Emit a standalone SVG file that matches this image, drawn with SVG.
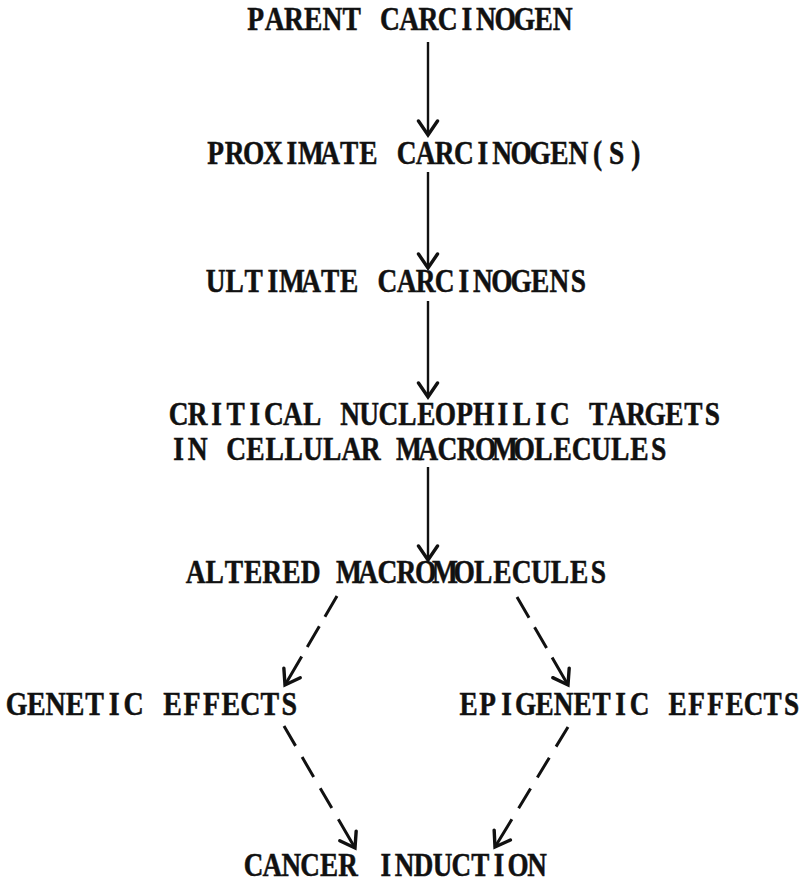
<svg xmlns="http://www.w3.org/2000/svg" width="806" height="883" viewBox="0 0 806 883">
<style>
  .t { font-family: "Liberation Serif", "Times New Roman", serif; font-weight: bold; font-size: 33px; fill: #111; stroke: #111; stroke-width: 0.5; text-anchor: middle; }
  .solid { stroke: #111; stroke-width: 2.4; fill: none; }
  .dash1 { stroke: #111; stroke-width: 3; fill: none; stroke-dasharray: 24 11 24 11 60; stroke-linecap: butt; }
  .dash2 { stroke: #111; stroke-width: 3; fill: none; stroke-dasharray: 23 13 23 13 23 13 60; stroke-linecap: butt; }
</style>
<defs>
  <marker id="head" markerUnits="userSpaceOnUse" viewBox="-16 -12 20 24" refX="0" refY="0" markerWidth="20" markerHeight="24" orient="auto">
    <path d="M -14 -9.5 L 0 0 L -14 9.5" fill="none" stroke="#111" stroke-width="3.4" stroke-linecap="round" stroke-linejoin="miter"/>
  </marker>
</defs>
<rect width="806" height="883" fill="#fff"/>
<g id="n-parent" transform="translate(246,0) scale(0.8348,1)"><text class="t" x="11.5 34.5 57.5 80.5 103.5 126.5 149.5 172.5 195.5 218.5 241.5 264.5 287.5 310.5 333.5 356.5 379.5 402.5 425.5 448.5 471.5 494.5 517.5 540.5 563.5 586.5 609.5 632.5 655.5" y="30">PARENT CARCINOGEN</text></g>
<g id="n-proximate" transform="translate(206,0) scale(0.8304,1)"><text class="t" x="11.5 34.5 57.5 80.5 103.5 126.5 149.5 172.5 195.5 218.5 241.5 264.5 287.5 310.5 333.5 356.5 379.5 402.5 425.5 448.5 471.5 494.5 517.5 540.5 563.5 586.5 609.5 632.5 655.5" y="164">PROXIMATE CARCINOGEN(S)</text></g>
<g id="n-ultimate" transform="translate(206,0) scale(0.8304,1)"><text class="t" x="11.5 34.5 57.5 80.5 103.5 126.5 149.5 172.5 195.5 218.5 241.5 264.5 287.5 310.5 333.5 356.5 379.5 402.5 425.5 448.5 471.5 494.5 517.5 540.5 563.5 586.5 609.5 632.5 655.5" y="292">ULTIMATE CARCINOGENS</text></g>
<g id="n-targets">
  <g transform="translate(169,0) scale(0.8291,1)"><text class="t" x="11.5 34.5 57.5 80.5 103.5 126.5 149.5 172.5 195.5 218.5 241.5 264.5 287.5 310.5 333.5 356.5 379.5 402.5 425.5 448.5 471.5 494.5 517.5 540.5 563.5 586.5 609.5 632.5 655.5" y="425">CRITICAL NUCLEOPHILIC TARGETS</text></g>
  <g transform="translate(169,0) scale(0.8348,1)"><text class="t" x="11.5 34.5 57.5 80.5 103.5 126.5 149.5 172.5 195.5 218.5 241.5 264.5 287.5 310.5 333.5 356.5 379.5 402.5 425.5 448.5 471.5 494.5 517.5 540.5 563.5 586.5 609.5 632.5 655.5" y="460">IN CELLULAR MACROMOLECULES</text></g>
</g>
<g id="n-altered" transform="translate(186,0) scale(0.8339,1)"><text class="t" x="11.5 34.5 57.5 80.5 103.5 126.5 149.5 172.5 195.5 218.5 241.5 264.5 287.5 310.5 333.5 356.5 379.5 402.5 425.5 448.5 471.5 494.5 517.5 540.5 563.5 586.5 609.5 632.5 655.5" y="583">ALTERED MACROMOLECULES</text></g>
<g id="n-genetic" transform="translate(7,0) scale(0.8465,1)"><text class="t" x="11.5 34.5 57.5 80.5 103.5 126.5 149.5 172.5 195.5 218.5 241.5 264.5 287.5 310.5 333.5 356.5 379.5 402.5 425.5 448.5 471.5 494.5 517.5 540.5 563.5 586.5 609.5 632.5 655.5" y="715">GENETIC EFFECTS</text></g>
<g id="n-epigenetic" transform="translate(459,0) scale(0.8261,1)"><text class="t" x="11.5 34.5 57.5 80.5 103.5 126.5 149.5 172.5 195.5 218.5 241.5 264.5 287.5 310.5 333.5 356.5 379.5 402.5 425.5 448.5 471.5 494.5 517.5 540.5 563.5 586.5 609.5 632.5 655.5" y="715">EPIGENETIC EFFECTS</text></g>
<g id="n-cancer" transform="translate(244,0) scale(0.8217,1)"><text class="t" x="11.5 34.5 57.5 80.5 103.5 126.5 149.5 172.5 195.5 218.5 241.5 264.5 287.5 310.5 333.5 356.5 379.5 402.5 425.5 448.5 471.5 494.5 517.5 540.5 563.5 586.5 609.5 632.5 655.5" y="876">CANCER INDUCTION</text></g>
<g id="connectors">
  <path class="solid" d="M 428 42 L 428 135" marker-end="url(#head)"/>
  <path class="solid" d="M 428 172 L 428 268" marker-end="url(#head)"/>
  <path class="solid" d="M 428 301 L 428 397" marker-end="url(#head)"/>
  <path class="solid" d="M 428 467 L 428 560" marker-end="url(#head)"/>
  <path class="dash1" d="M 337 596 L 285 685" marker-end="url(#head)"/>
  <path class="dash1" d="M 517 597 L 568 685" marker-end="url(#head)"/>
  <path class="dash2" d="M 284 726 L 355 848" marker-end="url(#head)"/>
  <path class="dash2" d="M 568 727 L 495 847" marker-end="url(#head)"/>
</g>
</svg>
